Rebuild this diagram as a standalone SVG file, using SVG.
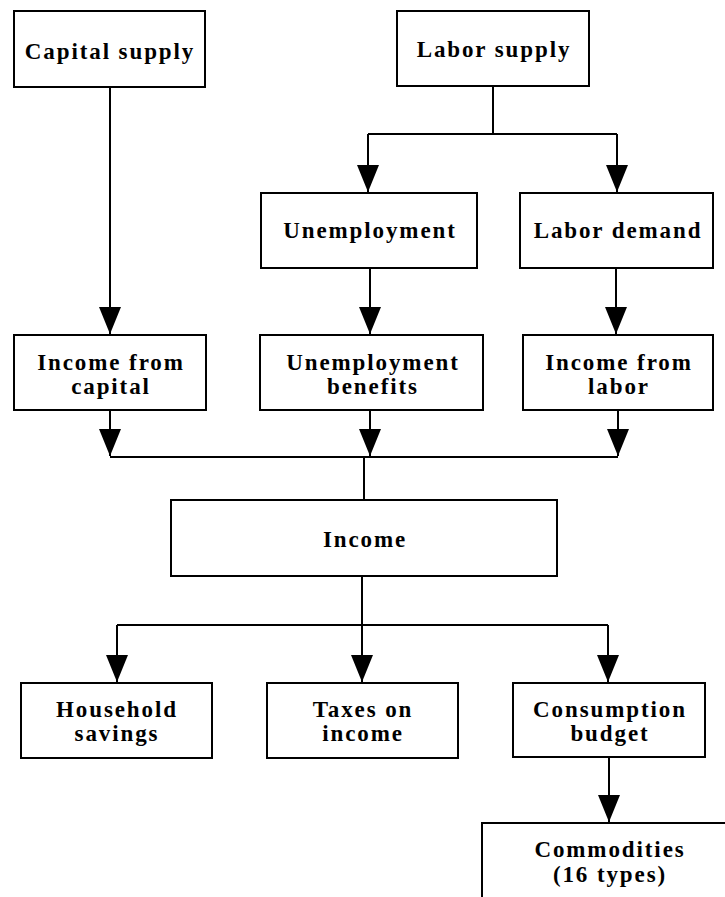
<svg xmlns="http://www.w3.org/2000/svg" width="725" height="897" viewBox="0 0 725 897">
<style>
.box{fill:#fff;stroke:#000;stroke-width:2}
.lbl{font-family:"Liberation Serif","Times New Roman",serif;font-weight:bold;font-size:23px;letter-spacing:1.9px;text-anchor:middle;fill:#000}
.ln{fill:none;stroke:#000;stroke-width:2}
.ar{fill:none;stroke:#000;stroke-width:2;marker-end:url(#ah)}
</style>
<defs>
<marker id="ah" markerUnits="userSpaceOnUse" markerWidth="28" markerHeight="24" viewBox="0 0 28 24" refX="27" refY="12" orient="auto">
<path d="M0,1 L27,12 L0,23 z" fill="#000"/>
</marker>
</defs>
<rect width="725" height="897" fill="#fff"/>
<g id="connectors">
<path class="ar" d="M110,87 V334"/>
<path class="ln" d="M493,86 V134 M368,134 H617"/>
<path class="ar" d="M368,134 V192"/>
<path class="ar" d="M617,134 V192"/>
<path class="ar" d="M370,268 V334"/>
<path class="ar" d="M616,268 V334"/>
<path class="ar" d="M110,410 V456"/>
<path class="ar" d="M370,410 V456"/>
<path class="ar" d="M618,410 V456"/>
<path class="ln" d="M110,457 H618 M364,457 V500"/>
<path class="ln" d="M362,576 V625 M117,625 H608"/>
<path class="ar" d="M117,625 V682"/>
<path class="ar" d="M362,625 V682"/>
<path class="ar" d="M608,625 V682"/>
<path class="ar" d="M609,757 V822"/>
</g>
<g id="capital-supply"><rect class="box" x="14" y="11" width="191" height="76"/><text class="lbl" x="110" y="59">Capital supply</text></g>
<g id="labor-supply"><rect class="box" x="397" y="11" width="192" height="75"/><text class="lbl" x="494" y="57">Labor supply</text></g>
<g id="unemployment"><rect class="box" x="261" y="193" width="216" height="75"/><text class="lbl" x="370" y="238">Unemployment</text></g>
<g id="labor-demand"><rect class="box" x="520" y="193" width="193" height="75"/><text class="lbl" x="618" y="238">Labor demand</text></g>
<g id="income-capital"><rect class="box" x="14" y="335" width="192" height="75"/><text class="lbl" x="111" y="370">Income from</text><text class="lbl" x="111" y="394">capital</text></g>
<g id="unemployment-benefits"><rect class="box" x="260" y="335" width="223" height="75"/><text class="lbl" x="373" y="370">Unemployment</text><text class="lbl" x="373" y="394">benefits</text></g>
<g id="income-labor"><rect class="box" x="523" y="335" width="190" height="75"/><text class="lbl" x="619" y="370">Income from</text><text class="lbl" x="619" y="394">labor</text></g>
<g id="income"><rect class="box" x="171" y="500" width="386" height="76"/><text class="lbl" x="365" y="547">Income</text></g>
<g id="household-savings"><rect class="box" x="21" y="683" width="191" height="75"/><text class="lbl" x="117" y="717">Household</text><text class="lbl" x="117" y="741">savings</text></g>
<g id="taxes-income"><rect class="box" x="267" y="683" width="191" height="75"/><text class="lbl" x="363" y="717">Taxes on</text><text class="lbl" x="363" y="741">income</text></g>
<g id="consumption-budget"><rect class="box" x="513" y="683" width="192" height="74"/><text class="lbl" x="610" y="717">Consumption</text><text class="lbl" x="610" y="741">budget</text></g>
<g id="commodities"><rect class="box" x="482" y="823" width="260" height="90"/><text class="lbl" x="610" y="857">Commodities</text><text class="lbl" x="610" y="882">(16 types)</text></g>
</svg>
